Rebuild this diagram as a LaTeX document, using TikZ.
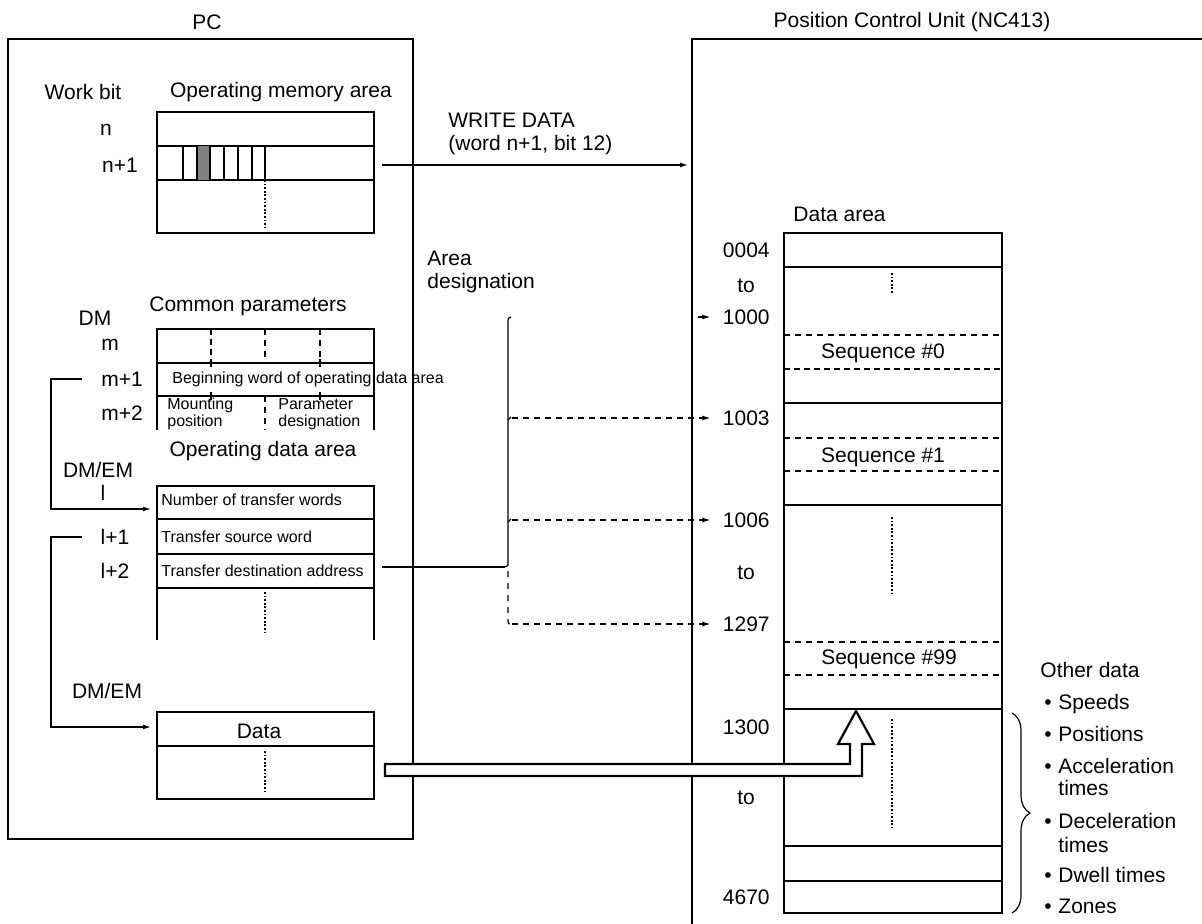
\documentclass[tikz,border=0pt]{standalone}
\usepackage{fontspec}
\setmainfont{Liberation Sans}
\usetikzlibrary{arrows.meta,positioning,decorations.pathreplacing}

\tikzset{
  lbl/.style={font=\fontsize{10.5}{11.5}\selectfont,inner sep=0pt},
  sml/.style={font=\fontsize{8}{8.5}\selectfont,inner sep=0pt},
  frame/.style={line width=0.7pt},
  wire/.style={line width=0.6pt},
  tip/.style={-{Latex[length=4pt,width=2.4pt]}},
  dashrow/.style={line width=0.6pt,dash pattern=on 3pt off 2.5pt},
  dotcol/.style={line width=0.9pt,dash pattern=on 0.9pt off 0.9pt},
}

\begin{document}
\begin{tikzpicture}[x=0.5pt,y=-0.5pt]
  \useasboundingbox (0,0) rectangle (1202,924);

  % PC
  \node[lbl] (pc) at (207,22) {PC};
  \draw[frame] (8,39) rectangle (413,839);

  \node[lbl] (workbit) at (83,92) {Work bit};
  \node[lbl] (opmem) at (281,92) {Operating memory area};
  \node[lbl] (wn) at (106,130) {n};
  \node[lbl] (wn1) at (120,165) {n+1};
  \draw[frame] (157,112) rectangle (374,233);
  \draw[frame] (157,146) -- (374,146) (157,180) -- (374,180);
  \fill[black!50] (197,146) rectangle (210,180);
  \foreach \x in {183,197,210,224,238,252,265}
    \draw[wire] (\x,146) -- (\x,180);
  \draw[dotcol] (265,180) -- (265,227);

  % common parameters
  \node[lbl] (common) at (248,306) {Common parameters};
  \node[lbl] (dm) at (95,318) {DM};
  \node[lbl] (pm) at (110,345) {m};
  \node[lbl] (pm1) at (122,379) {m+1};
  \node[lbl] (pm2) at (122,413) {m+2};
  \draw[frame] (157,430) -- (157,329) -- (374,329) -- (374,430);
  \draw[frame] (157,363) -- (374,363) (157,396) -- (374,396);
  \draw[line width=1.2pt,dash pattern=on 3pt off 2pt] (211,329) -- (211,363);
  \draw[dashrow] (265,329) -- (265,363) (320,329) -- (320,363) (265,396) -- (265,430);
  \foreach \x in {211,320}
    \draw[wire] (\x,359) -- (\x,367) (\x,392) -- (\x,400);
  \node[sml,anchor=west] (begword) at (172,379) {Beginning word of operating data area};
  \node[sml,anchor=west,align=left] (mount) at (167,414) {Mounting\\position};
  \node[sml,anchor=west,align=left] (param) at (278,414) {Parameter\\designation};

  % operating data area
  \node[lbl] (opdata) at (263,451) {Operating data area};
  \node[lbl] (dmem1) at (98,470) {DM/EM};
  \node[lbl] (wl) at (103,493) {l};
  \node[lbl] (wl1) at (115,537) {l+1};
  \node[lbl] (wl2) at (115,571) {l+2};
  \draw[frame] (157,640) -- (157,486) -- (374,486) -- (374,640);
  \draw[line width=1.1pt] (157,519) -- (374,519);
  \draw[frame] (157,554) -- (374,554) (157,588) -- (374,588);
  \node[sml,anchor=west] (ntw) at (161,500) {Number of transfer words};
  \node[sml,anchor=west] (tsw) at (161,537) {Transfer source word};
  \node[sml,anchor=west] (tda) at (161,571) {Transfer destination address};
  \draw[dotcol] (265,592) -- (265,633);

  % data
  \node[lbl] (dmem2) at (107,691) {DM/EM};
  \draw[frame] (157,712) rectangle (374,799);
  \draw[line width=1.2pt] (157,712) -- (374,712);
  \draw[frame] (157,746) -- (374,746);
  \node[lbl] (data) at (259,731) {Data};
  \draw[dotcol] (265,751) -- (265,792);

  \coordinate (opin) at (151,509);
  \coordinate (datain) at (151,727);
  \draw[wire,tip] ([xshift=-9.5pt]pm1.west) -| ([xshift=-50pt]opin) -- (opin);
  \draw[wire,tip] ([xshift=-9pt]wl1.west) -| ([xshift=-50pt]datain) -- (datain);

  % WRITE DATA
  \coordinate (bit12) at (382,165);
  \coordinate (pcuin) at (688,165);
  \draw[wire,tip] (bit12) -- (pcuin);
  \node[lbl,anchor=west,align=left] (wdata) at (448,134) {WRITE DATA\\(word n+1, bit 12)};

  % Position Control Unit
  \node[lbl] (pcu) at (912,22) {Position Control Unit (NC413)};
  \draw[frame] (692,924) -- (692,39) -- (1202,39);

  \node[lbl,anchor=west] (dataarea) at (793,214) {Data area};
  \draw[frame] (784,233) rectangle (1002,913);
  \foreach \y in {267,403,505,709,846,881}
    \draw[frame] (784,\y) -- (1002,\y);
  \foreach \y in {335,438,471,642,675}
    \draw[dashrow] (784,\y) -- (1002,\y);
  \draw[line width=1.1pt,dash pattern=on 3pt off 2pt] (784,369) -- (1002,369);
  \draw[dotcol] (892,273) -- (892,293) (892,517) -- (892,595) (892,719) -- (892,828);
  \node[lbl] (seq0) at (883,353) {Sequence \#0};
  \node[lbl] (seq1) at (883,457) {Sequence \#1};
  \node[lbl] (seq99) at (889,659) {Sequence \#99};

  \foreach \y/\num in {250/0004,317/1000,418/1003,520/1006,624/1297,727/1300,897/4670}
    \node[lbl,anchor=east] (a\num) at (770,\y) {\num};
  \node[lbl] (to1) at (746,286) {to};
  \node[lbl] (to2) at (746,573) {to};
  \node[lbl] (to3) at (746,798) {to};

  % area designation
  \node[lbl,anchor=west,align=left] (areades) at (427,272) {Area\\designation};
  \coordinate (tdaout) at (382,567);
  \coordinate (brtip) at (505,567);
  \draw[wire] (tdaout) -- (brtip);
  \draw[wire] (brtip) .. controls (508,566) .. (508,562) -- (508,321) .. controls (508,318) .. (511,317);
  \draw[wire,dashed] (508,571) -- (508,621) .. controls (508,624) .. (511,624);
  \draw[wire] (508,420) -- (511,417) (508,522) -- (511,519);
  \draw[wire,tip] (698,317) -- ([xshift=-6pt]a1000.west);
  \foreach \num/\y in {1003/418,1006/520,1297/624}
    \draw[wire,dashrow,tip] (512,\y) -- ([xshift=-6pt]a\num.west);

  % other data
  \draw[wire,decorate,decoration={brace,amplitude=9pt}] (1012,713) -- (1012,913);
  \node[lbl,anchor=west] (other) at (1040,670) {Other data};
  \foreach \y/\t [count=\i] in {702/Speeds,734/Positions,766/Acceleration,821/Deceleration,875/Dwell times,906/Zones}{
    \node[lbl,anchor=base west] (bul\i) at (1044,\y+7) {\textbullet};
    \node[lbl,anchor=base west] (item\i) at (1058,\y+7) {\t};
  }
  \node[lbl,anchor=west] (times1) at (1058,788) {times};
  \node[lbl,anchor=west] (times2) at (1058,845) {times};

  % transfer of data
  \draw[line width=1.1pt,fill=white] (385,764) -- (850,764) -- (850,744) -- (838,744) -- (856,711)
    -- (874,744) -- (862,744) -- (862,776) -- (385,776) -- cycle;
\end{tikzpicture}
\end{document}
